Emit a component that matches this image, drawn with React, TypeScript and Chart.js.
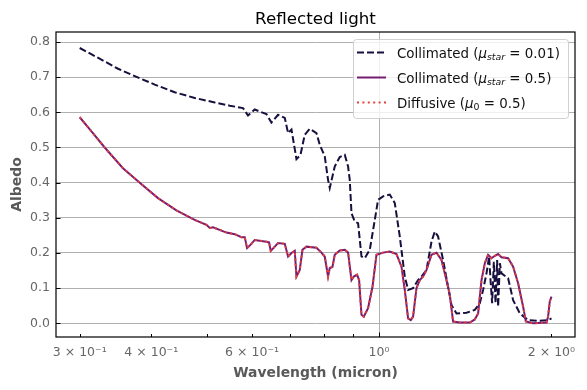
import { useEffect, useRef } from "react";
import { Chart, registerables } from "chart.js";

Chart.register(...registerables);

// ---- data ----
const wavelengthCol001 = [
  0.300, 0.3273, 0.3500, 0.3743, 0.4056, 0.4396, 0.4764, 0.5164, 0.5486, 0.5786,
  0.5903, 0.6064, 0.6357,
  0.6486, 0.6661, 0.6844, 0.6935, 0.7031, 0.7173, 0.7290, 0.7415, 0.7566, 0.7773,
  0.7877, 0.8037, 0.8145, 0.8201, 0.8367, 0.8538, 0.8712, 0.8828, 0.8888, 0.8950,
  0.9069, 0.9190, 0.9317, 0.9441, 0.9633, 0.9829, 0.9960, 1.0162, 1.0440, 1.0652,
  1.0868, 1.1089, 1.1238, 1.1466, 1.1697, 1.1862, 1.2102, 1.2347, 1.2511, 1.2679,
  1.2937, 1.3198, 1.3381, 1.3653, 1.4214, 1.4696, 1.4995, 1.5197, 1.5404, 1.5569,
  1.5656, 1.5757, 1.5866, 1.5974, 1.6078, 1.6141, 1.6255, 1.6362, 1.6805, 1.7145,
  1.7614, 1.8210, 1.9088, 1.9734, 2.0008,
];
const albedoCol001 = [
  0.783, 0.750, 0.724, 0.703, 0.679, 0.657, 0.641, 0.628, 0.619, 0.612,
  0.591, 0.608, 0.595,
  0.571, 0.593, 0.584, 0.541, 0.551, 0.467, 0.479, 0.536, 0.553, 0.541,
  0.508, 0.475, 0.408, 0.385, 0.446, 0.473, 0.479, 0.446, 0.408, 0.313,
  0.289, 0.285, 0.190, 0.185, 0.209, 0.294, 0.351, 0.361, 0.366, 0.342,
  0.247, 0.133, 0.095, 0.100, 0.123, 0.133, 0.152, 0.232, 0.261, 0.247,
  0.180, 0.104, 0.052, 0.028, 0.030, 0.038, 0.057, 0.095, 0.142, 0.190,
  0.123, 0.057, 0.175, 0.057, 0.180, 0.047, 0.171, 0.142, 0.128, 0.066,
  0.028, 0.009, 0.007, 0.009, 0.014,
];

const wavelengthCol05 = [
  0.300, 0.3145, 0.3317, 0.3570, 0.3819, 0.4110, 0.4426, 0.4764, 0.4994, 0.5061,
  0.5129, 0.5413, 0.5597,
  0.5749, 0.5826, 0.5880, 0.5961, 0.6064, 0.6357, 0.6424, 0.6468, 0.6573, 0.6661,
  0.6844, 0.6935, 0.7031, 0.7124, 0.7173, 0.7269, 0.7348, 0.7467, 0.7773, 0.7931,
  0.8037, 0.8145, 0.8201, 0.8290, 0.8367, 0.8538, 0.8712, 0.8828, 0.8950, 0.9033,
  0.9154, 0.9228, 0.9317, 0.9403, 0.9567, 0.9739, 0.9896, 1.0162, 1.0440, 1.0725,
  1.0943, 1.1089, 1.1238, 1.1361, 1.1466, 1.1623, 1.1780, 1.1938, 1.2102, 1.2347,
  1.2597, 1.2853, 1.3113, 1.3290, 1.3468, 1.3836, 1.4405, 1.4696, 1.4894, 1.5098,
  1.5301, 1.5503, 1.5719, 1.5927, 1.6141, 1.6362, 1.6805, 1.7145, 1.7493, 1.7850,
  1.8045, 1.8578, 1.9611, 1.9734, 1.9870, 2.0008,
];
const albedoCol05 = [
  0.586, 0.546, 0.500, 0.441, 0.400, 0.356, 0.321, 0.294, 0.280, 0.271,
  0.273, 0.258, 0.2535,
  0.245, 0.245, 0.214, 0.223, 0.237, 0.232, 0.230, 0.206, 0.218, 0.228,
  0.226, 0.190, 0.200, 0.206, 0.133, 0.152, 0.209, 0.218, 0.215, 0.201,
  0.190, 0.133, 0.157, 0.160, 0.195, 0.207, 0.209, 0.201, 0.123, 0.133,
  0.138, 0.123, 0.024, 0.019, 0.043, 0.104, 0.195, 0.201, 0.204, 0.197,
  0.161, 0.095, 0.014, 0.009, 0.019, 0.100, 0.123, 0.133, 0.152, 0.195,
  0.201, 0.180, 0.123, 0.081, 0.005, 0.002, 0.002, 0.011, 0.028, 0.123,
  0.171, 0.195, 0.185, 0.192, 0.197, 0.188, 0.185, 0.161, 0.114, 0.047,
  0.005, 0.000, 0.002, 0.019, 0.062, 0.076,
];
const albedoDiffusive05 = [
  0.586, 0.546, 0.500, 0.441, 0.400, 0.356, 0.321, 0.294, 0.280, 0.271,
  0.273, 0.258, 0.2535,
  0.245, 0.245, 0.214, 0.223, 0.237, 0.232, 0.230, 0.206, 0.218, 0.228,
  0.226, 0.190, 0.200, 0.206, 0.133, 0.152, 0.209, 0.218, 0.215, 0.201,
  0.190, 0.133, 0.157, 0.160, 0.195, 0.207, 0.209, 0.201, 0.123, 0.133,
  0.138, 0.123, 0.024, 0.019, 0.043, 0.104, 0.195, 0.201, 0.204, 0.197,
  0.161, 0.095, 0.014, 0.009, 0.019, 0.100, 0.123, 0.133, 0.152, 0.195,
  0.201, 0.180, 0.123, 0.081, 0.005, 0.002, 0.002, 0.011, 0.028, 0.123,
  0.171, 0.195, 0.185, 0.192, 0.197, 0.188, 0.185, 0.161, 0.114, 0.047,
  0.005, 0.000, 0.002, 0.019, 0.062, 0.076,
];

const xTickValues = [0.3, 0.4, 0.5, 0.6, 0.7, 0.8, 0.9, 1, 2];
const xTickLabels = ["3 × 10⁻¹", "4 × 10⁻¹", "", "6 × 10⁻¹", "", "", "", "10⁰", "2 × 10⁰"];
const yTickValues = [0, 0.1, 0.2, 0.3, 0.4, 0.5, 0.6, 0.7, 0.8];

const titleText = "Reflected light";
const xAxisTitle = "Wavelength (micron)";
const yAxisTitle = "Albedo";

const legendPrefix = ["Collimated (", "Collimated (", "Diffusive ("];
const legendSymbol = ["μ", "μ", "μ"];
const legendSubscript = ["star", "star", "0"];
const legendSuffix = [" = 0.01)", " = 0.5)", " = 0.5)"];

const FONT = '"DejaVu Sans", sans-serif';
const colors = ["#170f3d", "#751d73", "#e5403c"];
const dashes: number[][] = [[7, 3], [], [2, 3.4]];

const decorPlugin = {
  id: "decor",
  afterDatasetsDraw(chart: any) {
    const { ctx, chartArea: a, scales } = chart;
    ctx.save();
    // inward ticks
    ctx.strokeStyle = "#000";
    ctx.lineWidth = 1;
    xTickValues.forEach((v) => {
      const px = Math.round(scales.x.getPixelForValue(v)) + 0.5;
      const len = v === 1 ? 4.5 : 3;
      ctx.beginPath();
      ctx.moveTo(px, a.bottom);
      ctx.lineTo(px, a.bottom - len);
      ctx.stroke();
    });
    yTickValues.forEach((v) => {
      const py = Math.round(scales.y.getPixelForValue(v)) + 0.5;
      ctx.beginPath();
      ctx.moveTo(a.left, py);
      ctx.lineTo(a.left + 4.5, py);
      ctx.stroke();
    });
    // frame
    ctx.lineWidth = 1.2;
    ctx.strokeStyle = "#000";
    ctx.strokeRect(a.left, a.top, a.right - a.left, a.bottom - a.top);

    // legend
    const bx = 353, by = 39, bw = 215, bh = 79;
    ctx.beginPath();
    ctx.roundRect(bx + 0.5, by + 0.5, bw, bh, 3);
    ctx.fillStyle = "rgba(255,255,255,0.8)";
    ctx.fill();
    ctx.strokeStyle = "rgba(204,204,204,0.9)";
    ctx.lineWidth = 1;
    ctx.stroke();
    const rows = [52.5, 77.5, 102.5];
    const fs = 13.4;
    rows.forEach((ry, i) => {
      ctx.save();
      ctx.strokeStyle = colors[i];
      ctx.lineWidth = 2;
      ctx.setLineDash(dashes[i]);
      ctx.beginPath();
      ctx.moveTo(357, ry);
      ctx.lineTo(386, ry);
      ctx.stroke();
      ctx.restore();
      let tx = 397;
      const ty = ry + 5;
      ctx.fillStyle = "#111";
      ctx.textBaseline = "alphabetic";
      ctx.textAlign = "left";
      ctx.font = `${fs}px ${FONT}`;
      ctx.fillText(legendPrefix[i], tx, ty);
      tx += ctx.measureText(legendPrefix[i]).width;
      ctx.font = `italic ${fs}px ${FONT}`;
      ctx.fillText(legendSymbol[i], tx, ty);
      tx += ctx.measureText(legendSymbol[i]).width;
      const subItalic = /[a-z]/.test(legendSubscript[i]);
      ctx.font = `${subItalic ? "italic " : ""}${fs * 0.7}px ${FONT}`;
      ctx.fillText(legendSubscript[i], tx, ty + 2.5);
      tx += ctx.measureText(legendSubscript[i]).width;
      ctx.font = `${fs}px ${FONT}`;
      ctx.fillText(legendSuffix[i], tx, ty);
    });

    // title and axis titles
    const cx = (a.left + a.right) / 2;
    ctx.fillStyle = "#000";
    ctx.textAlign = "center";
    ctx.textBaseline = "alphabetic";
    ctx.font = `16.7px ${FONT}`;
    ctx.fillText(titleText, cx, 23.5);
    ctx.fillStyle = "#595959";
    ctx.font = `bold 13.9px ${FONT}`;
    ctx.fillText(xAxisTitle, cx, 377);
    ctx.save();
    ctx.translate(21, (a.top + a.bottom) / 2);
    ctx.rotate(-Math.PI / 2);
    ctx.fillText(yAxisTitle, 0, 0);
    ctx.restore();
    ctx.restore();
  },
};

export default function App() {
  const ref = useRef<HTMLCanvasElement | null>(null);
  useEffect(() => {
    if (!ref.current) return;
    const mk = (xs: number[], ys: number[]) => xs.map((x, i) => ({ x, y: ys[i] }));
    const chart = new Chart(ref.current, {
      type: "line",
      data: {
        datasets: [
          {
            label: "Collimated (μstar = 0.01)",
            data: mk(wavelengthCol001, albedoCol001),
            borderColor: colors[0],
            borderWidth: 2,
            borderDash: dashes[0],
            pointRadius: 0,
            tension: 0,
            order: 3,
          },
          {
            label: "Collimated (μstar = 0.5)",
            data: mk(wavelengthCol05, albedoCol05),
            borderColor: colors[1],
            borderWidth: 2,
            pointRadius: 0,
            tension: 0,
            order: 2,
          },
          {
            label: "Diffusive (μ0 = 0.5)",
            data: mk(wavelengthCol05, albedoDiffusive05),
            borderColor: colors[2],
            borderWidth: 2,
            borderDash: dashes[2],
            pointRadius: 0,
            tension: 0,
            order: 1,
          },
        ],
      },
      options: {
        animation: false,
        responsive: false,
        devicePixelRatio: 1,
        layout: { padding: { left: 0, top: 32, right: 12, bottom: 0 } },
        plugins: { legend: { display: false }, title: { display: false }, tooltip: { enabled: false } },
        scales: {
          x: {
            type: "logarithmic",
            min: 0.2727,
            max: 2.199,
            afterBuildTicks: (s: any) => {
              s.ticks = xTickValues.map((v) => ({ value: v }));
            },
            afterFit: (s: any) => {
              s.height = 53;
            },
            ticks: {
              autoSkip: false,
              maxRotation: 0,
              minRotation: 0,
              padding: 8,
              color: "#666",
              font: { family: FONT, size: 12.5 },
              callback: (_v: any, i: number) => xTickLabels[i],
            },
            grid: {
              drawTicks: false,
              color: (c: any) => (c.tick && c.tick.value === 1 ? "#b0b0b0" : "rgba(0,0,0,0)"),
              lineWidth: 1,
            },
            border: { display: false },
          },
          y: {
            type: "linear",
            min: -0.039,
            max: 0.8285,
            afterBuildTicks: (s: any) => {
              s.ticks = yTickValues.map((v) => ({ value: v }));
            },
            afterFit: (s: any) => {
              s.width = 56;
            },
            ticks: {
              padding: 6,
              color: "#666",
              font: { family: FONT, size: 12.5 },
              callback: (v: any) => Number(v).toFixed(1),
            },
            grid: { drawTicks: false, color: "#b0b0b0", lineWidth: 1 },
            border: { display: false },
          },
        },
      },
      plugins: [decorPlugin],
    } as any);
    return () => chart.destroy();
  }, []);
  return (
    <div style={{ position: "absolute", left: 0, top: 0, width: 587, height: 390, background: "#fff" }}>
      <canvas ref={ref} width={587} height={390} style={{ width: 587, height: 390, display: "block" }} />
    </div>
  );
}
